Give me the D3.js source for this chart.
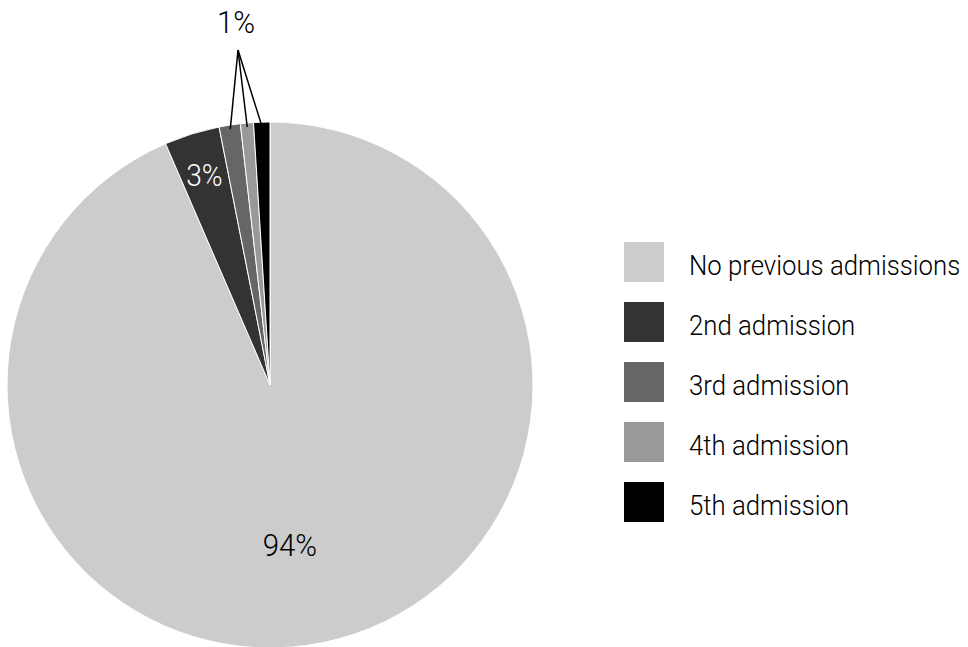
<!DOCTYPE html>
<html>
<head>
<meta charset="utf-8">
<script src="https://cdn.jsdelivr.net/npm/d3@7"></script>
<style>
  html, body { margin: 0; padding: 0; background: #fff; }
  svg text { font-family: Roboto, "Liberation Sans", Arial, sans-serif; font-weight: 300; }
</style>
</head>
<body>
<svg id="chart" width="968" height="647"></svg>
<script>
// Share of admissions by number of previous admissions (percent)
const categories = ["No previous admissions", "2nd admission", "3rd admission", "4th admission", "5th admission"];
const values = [93.5, 3.4, 1.3, 0.8, 1.0];
const colors = ["#cccccc", "#333333", "#666666", "#999999", "#000000"];

const svg = d3.select("#chart");
const cx = 270, cy = 385, radius = 263;

// condensed look: the light sans face is narrowed horizontally
const labelSquash = 0.92;
const legendSquash = 0.92;

const data = categories.map((c, i) => ({ name: c, value: values[i], color: colors[i] }));

const pie = d3.pie().sort(null).value(d => d.value).startAngle(0).endAngle(2 * Math.PI);
const arcs = pie(data);
const arc = d3.arc().innerRadius(0).outerRadius(radius);

const g = svg.append("g").attr("transform", `translate(${cx},${cy})`);

g.selectAll("path.slice")
  .data(arcs)
  .join("path")
  .attr("class", "slice")
  .attr("d", arc)
  .attr("fill", d => d.data.color)
  .attr("stroke", "#ffffff")
  .attr("stroke-width", 1);

const pct = v => Math.round(v) + "%";

function squashedText(parent, x, y, squash) {
  return parent.append("text")
    .attr("transform", `translate(${x},${y}) scale(${squash},1)`);
}

// labels inside the two larger slices
const bigLabel = d3.arc().innerRadius(radius * 0.61).outerRadius(radius * 0.61);
const midLabel = d3.arc().innerRadius(radius * 0.84).outerRadius(radius * 0.84);

const a0 = arcs[0];
const p0 = bigLabel.centroid({ startAngle: a0.startAngle, endAngle: a0.endAngle + 0.16 });
squashedText(g, p0[0], p0[1], labelSquash)
  .attr("dy", "0.36em")
  .attr("text-anchor", "middle")
  .attr("font-size", 32)
  .attr("fill", "#000")
  .text(pct(a0.data.value));

const a1 = arcs[1];
const p1 = midLabel.centroid(a1);
squashedText(g, p1[0], p1[1], 0.88)
  .attr("dy", "0.36em")
  .attr("text-anchor", "middle")
  .attr("font-size", 32)
  .attr("fill", "#fff")
  .text(pct(a1.data.value));

// shared callout for the three smallest slices
const small = arcs.slice(2);
const apex = [238 - cx, 50 - cy];
const edge = d3.arc().innerRadius(radius - 4).outerRadius(radius - 4);
g.selectAll("line.leader")
  .data(small)
  .join("line")
  .attr("class", "leader")
  .attr("x1", apex[0]).attr("y1", apex[1])
  .attr("x2", d => edge.centroid(d)[0])
  .attr("y2", d => edge.centroid(d)[1])
  .attr("stroke", "#000")
  .attr("stroke-width", 1.5);

squashedText(g, apex[0] - 2, apex[1] - 17, labelSquash)
  .attr("text-anchor", "middle")
  .attr("font-size", 32)
  .attr("fill", "#000")
  .text(pct(small[0].data.value));

// legend
const legend = svg.append("g").attr("transform", "translate(624,242)");
const item = legend.selectAll("g.item")
  .data(data)
  .join("g")
  .attr("class", "item")
  .attr("transform", (d, i) => `translate(0,${i * 60})`);

item.append("rect")
  .attr("width", 40).attr("height", 40)
  .attr("fill", d => d.color);

item.append("text")
  .attr("transform", `translate(65,33) scale(${legendSquash},1)`)
  .attr("font-size", 28)
  .attr("fill", "#000")
  .text(d => d.name);
</script>
</body>
</html>
